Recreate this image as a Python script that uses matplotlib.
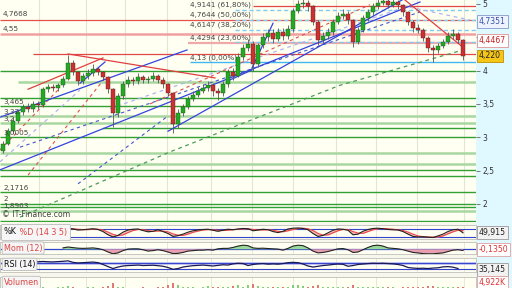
import matplotlib
matplotlib.use("Agg")
import matplotlib.pyplot as plt
from matplotlib.patches import Rectangle
from matplotlib.offsetbox import TextArea, HPacker, AnchoredOffsetbox
import numpy as np

# ---------------- data ----------------
closes = [2.90, 3.10, 3.25, 3.38, 3.45, 3.42, 3.50, 3.48, 3.72, 3.76,
          3.74, 3.78, 3.88, 4.12, 3.98, 3.84, 3.92, 3.96, 4.02, 3.98,
          3.90, 3.72, 3.36, 3.62, 3.80, 3.86, 3.84, 3.90, 3.86, 3.88,
          3.92, 3.86, 3.80, 3.66, 3.20, 3.36, 3.46, 3.58, 3.64, 3.70,
          3.74, 3.78, 3.70, 3.66, 3.80, 3.98, 3.92, 4.20, 4.34, 4.40,
          4.10, 4.38, 4.50, 4.56, 4.48, 4.58, 4.52, 4.62, 4.90, 5.00,
          5.01, 4.97, 4.73, 4.46, 4.52, 4.58, 4.73, 4.82, 4.85, 4.76,
          4.43, 4.61, 4.79, 4.88, 4.97, 5.02, 5.04, 4.99, 5.03, 4.98,
          4.88, 4.73, 4.64, 4.61, 4.49, 4.34, 4.31, 4.37, 4.43, 4.52,
          4.55, 4.46, 4.22]
first_open = 2.80
highs = [2.95, 3.14, 3.30, 3.42, 3.50, 3.52, 3.55, 3.54, 3.76, 3.80,
         3.80, 3.82, 3.92, 4.24, 4.16, 4.00, 3.96, 4.02, 4.10, 4.06,
         4.00, 3.92, 3.74, 3.66, 3.84, 3.92, 3.90, 3.96, 3.94, 3.92,
         3.98, 3.95, 3.90, 3.82, 3.68, 3.42, 3.50, 3.62, 3.70, 3.76,
         3.80, 3.84, 3.82, 3.74, 3.84, 4.02, 4.04, 4.26, 4.40, 4.48,
         4.44, 4.42, 4.56, 4.62, 4.62, 4.64, 4.64, 4.68, 4.94, 5.06,
         5.08, 5.06, 4.99, 4.76, 4.58, 4.64, 4.78, 4.88, 4.92, 4.90,
         4.78, 4.66, 4.84, 4.92, 5.02, 5.08, 5.10, 5.08, 5.08, 5.06,
         5.00, 4.90, 4.76, 4.70, 4.64, 4.52, 4.38, 4.42, 4.48, 4.58,
         4.62, 4.58, 4.48]
lows = [2.76, 2.88, 3.06, 3.22, 3.34, 3.38, 3.38, 3.42, 3.45, 3.68,
        3.70, 3.70, 3.75, 3.86, 3.94, 3.78, 3.80, 3.88, 3.92, 3.94,
        3.86, 3.66, 3.15, 3.30, 3.58, 3.76, 3.78, 3.80, 3.82, 3.82,
        3.84, 3.82, 3.74, 3.62, 3.06, 3.14, 3.32, 3.42, 3.54, 3.60,
        3.66, 3.70, 3.62, 3.56, 3.62, 3.76, 3.86, 3.90, 4.16, 4.30,
        4.00, 4.06, 4.34, 4.44, 4.42, 4.44, 4.46, 4.48, 4.58, 4.86,
        4.94, 4.90, 4.68, 4.38, 4.42, 4.48, 4.54, 4.70, 4.78, 4.70,
        4.36, 4.40, 4.58, 4.74, 4.84, 4.92, 4.98, 4.94, 4.96, 4.92,
        4.82, 4.68, 4.58, 4.56, 4.44, 4.28, 4.13, 4.26, 4.34, 4.40,
        4.48, 4.42, 4.16]
volumes = [4, 3, 5, 3, 4, 3, 2, 3, 5, 3, 3, 4, 5, 8, 4, 3, 3, 4, 5, 3,
           5, 7, 14, 6, 4, 3, 3, 3, 4, 3, 3, 4, 5, 9, 16, 10, 6, 5, 4, 3,
           5, 8, 6, 4, 5, 6, 8, 10, 6, 9, 12, 8, 6, 5, 4, 6, 5, 4, 9, 11,
           7, 6, 8, 10, 6, 5, 5, 4, 6, 5, 9, 5, 4, 5, 4, 4, 5, 6, 4, 3,
           5, 6, 5, 4, 6, 8, 7, 5, 4, 5, 4, 5, 6]

stoch_start = 7
stoch_k = [80, 82, 84, 80, 78, 82, 86, 80, 72, 74, 78, 82, 76, 60, 35, 18,
           30, 55, 72, 78, 80, 68, 58, 62, 74, 60, 45, 22, 28, 40, 55, 66,
           72, 76, 78, 70, 62, 70, 78, 74, 80, 84, 82, 66, 72, 78, 74, 60,
           52, 62, 80, 86, 88, 84, 74, 45, 22, 30, 50, 70, 80, 78, 70, 35,
           40, 62, 76, 84, 86, 82, 76, 74, 72, 60, 40, 22, 18, 20, 16, 14,
           26, 40, 60, 74, 78, 50]
stoch_d = [78, 80, 82, 82, 80, 80, 82, 82, 78, 75, 75, 78, 78, 72, 56, 38,
           28, 34, 52, 68, 76, 75, 68, 62, 64, 64, 58, 42, 32, 30, 40, 54,
           64, 72, 75, 74, 70, 68, 70, 74, 78, 80, 82, 76, 72, 72, 74, 70,
           62, 58, 66, 76, 84, 86, 82, 68, 46, 32, 34, 50, 66, 76, 76, 60,
           48, 46, 60, 74, 82, 84, 82, 78, 74, 68, 56, 40, 26, 20, 18, 16,
           18, 26, 42, 58, 70, 68]
stoch_last = "49,915"

mom_start = 12
mom = [0.15, 0.25, 0.18, 0.12, 0.10, 0.12, 0.15, 0.08, -0.05, -0.30,
       -0.50, -0.40, -0.15, 0.02, 0.05, 0.05, -0.05, -0.20, -0.15, -0.05,
       -0.15, -0.30, -0.48, -0.45, -0.35, -0.20, -0.15, -0.10, -0.10, -0.05,
       -0.10, 0.05, 0.10, 0.10, 0.20, 0.35, 0.45, 0.40, 0.15, 0.10,
       0.12, 0.08, 0.05, 0.02, -0.10, 0.10, 0.35, 0.45, 0.40, 0.15,
       -0.20, -0.40, -0.35, -0.25, -0.10, 0.05, 0.08, -0.05, -0.35, -0.30,
       -0.05, 0.20, 0.40, 0.45, 0.35, 0.15, 0.10, 0.05, -0.05, -0.20,
       -0.35, -0.40, -0.48, -0.50, -0.50, -0.45, -0.40, -0.25, -0.10, -0.05,
       -0.135]
mom_last = "-0,1350"

rsi_start = 6
rsi = [80, 80, 82, 80, 79, 81, 83, 86, 76, 72, 74, 76, 78, 74, 62, 48,
       35, 45, 52, 55, 56, 58, 55, 56, 57, 54, 50, 42, 30, 35, 45, 50,
       54, 56, 58, 55, 52, 56, 60, 58, 66, 70, 68, 55, 62, 66, 68, 64,
       66, 64, 68, 74, 76, 74, 65, 52, 45, 50, 55, 58, 62, 65, 63, 50,
       55, 62, 65, 68, 70, 69, 70, 68, 66, 62, 55, 42, 38, 36, 37, 35,
       38, 40, 46, 48, 44, 35.145]
rsi_last = "35,145"
vol_last = "4,922K"

fib_levels = [4.13, 4.4294, 4.6147, 4.7644, 4.9141]
fib_labels = ["4,13 (0,00%)", "4,4294 (23,60%)", "4,6147 (38,20%)",
              "4,7644 (50,00%)", "4,9141 (61,80%)"]

red_full_levels = [4.7668, 4.55]
red_full_labels = ["4,7668", "4,55"]
red_part_levels = [4.25, 4.97, 4.42]
red_part_starts = [6, 50, 37]

green_solid_levels = [4.0, 3.59, 3.465, 3.14, 3.0005, 2.51, 2.42, 2.1716, 2.0, 1.95, 1.735]
green_solid_starts = [-1, -1, -1, 19.8, -1, -1, -1, -1, -1, -1, -1]
green_pale_levels = [3.83, 3.32, 3.21, 2.76, 2.60, 1.8963]
green_pale_starts = [3, -1, -1, -1, -1, -1]
green_labels = ["3,465", "3,32", "3,2", "3,0005", "2,1716", "2", "1,8963"]
green_label_levels = [3.465, 3.32, 3.21, 3.0005, 2.1716, 2.0, 1.8963]

# trend lines: (i0, p0, i1, p1)
blue_solid = [(-0.6, 3.30, 36.8, 4.31), (-0.6, 2.51, 83.4, 5.03),
              (33.0, 3.09, 79.8, 5.06), (15.4, 3.81, 20.4, 4.13),
              (49.8, 4.04, 54.0, 4.71), (45.4, 3.86, 49.8, 4.01)]
red_solid = [(5.0, 3.72, 20.0, 4.19), (13.0, 4.25, 42.4, 3.89),
             (80.4, 5.06, 92.0, 4.35)]
red_dashed = [(-0.6, 2.81, 11.4, 3.74), (5.0, 2.43, 20.4, 3.89),
              (29.4, 3.50, 73.4, 4.99)]
blue_dashed = [(3.4, 2.85, 83.4, 4.88), (15.0, 2.30, 33.0, 3.32)]
lav_dashed = [(21.4, 3.43, 79.4, 4.93), (-0.6, 2.63, 15.4, 3.71),
              (78.4, 5.00, 93.4, 4.76)]
green_dashed_i = [3.4, 33.4, 67.4, 92.0]
green_dashed_p = [1.80, 2.78, 3.78, 4.31]

month_lines = [7.2, 16.6, 24.4, 32.8, 41.6, 49.8, 58.0, 66.6, 74.6, 82.8, 92.2]

right_ticks = [2, 2.5, 3, 3.5, 4, 4.5, 5]
right_tick_labels = ["2", "2,5", "3", "3,5", "4", "", "5"]

# ---------------- figure ----------------
W, H = 512, 288
fig = plt.figure(figsize=(W / 100, H / 100), dpi=100)
fig.patch.set_facecolor("#f7f7ee")
fig.patches.append(Rectangle((476 / W, 0), 36 / W, 1, transform=fig.transFigure,
                             color="#e0f8ff", zorder=-10))

def rect(l, t, w, h):
    return [l / W, 1 - (t + h) / H, w / W, h / H]

XL = (-0.6, 94.6)
BG = "#fffff2"
FS = 5.2

ax = fig.add_axes(rect(0, 0, 476, 222))
ax.set_facecolor(BG)
ax.set_xlim(*XL)
ax.set_ylim(1.727, 5.06)
for s in ax.spines.values():
    s.set_visible(False)
ax.set_xticks([])
ax.yaxis.tick_right()
ax.set_yticks(right_ticks)
ax.set_yticklabels(right_tick_labels)
ax.tick_params(axis="y", length=3, width=0.6, color="#666666", labelsize=5.5,
               labelcolor="#333333", pad=1.5)

for m in month_lines:
    ax.axvline(m, color="#e4e4d6", lw=0.8, zorder=0)

xmax = XL[1]
# green supports
for lv, st in zip(green_pale_levels, green_pale_starts):
    ax.hlines(lv, max(st, XL[0]), xmax, color="#a8d8a0", lw=1.8, zorder=1)
for lv, st in zip(green_solid_levels, green_solid_starts):
    ax.hlines(lv, max(st, XL[0]), xmax, color="#33a033", lw=1.0, zorder=1)
# red resistances
ax.hlines(red_full_levels[0], XL[0], xmax, color="#e85050", lw=0.9, zorder=1)
ax.hlines(red_full_levels[1], XL[0], xmax, color="#f0a0a0", lw=1.8, zorder=1)
ax.hlines(red_part_levels[0], red_part_starts[0], xmax, color="#e04848", lw=0.9, zorder=1)
ax.hlines(red_part_levels[1], red_part_starts[1], xmax, color="#e04848", lw=0.9, zorder=1)
ax.hlines(red_part_levels[2], red_part_starts[2], xmax, color="#f0a8a8", lw=1.6, zorder=1)
# fibonacci
ax.hlines(fib_levels[0], 37.4, xmax, color="#40b8f0", lw=1.0, zorder=1)
for lv in fib_levels[1:]:
    ax.hlines(lv, 46.4, xmax, color="#80ccf0", lw=1.0, linestyles=(0, (3, 2)), zorder=1)
for lv, lb in zip(fib_levels, fib_labels):
    ax.annotate(lb, (37.4, lv), xytext=(0, 1.0), textcoords="offset points",
                fontsize=FS, color="#444444", va="bottom", ha="left", zorder=6)

# trend lines
for (a, b, c2, d) in blue_dashed:
    ax.plot([a, c2], [b, d], color="#4455cc", lw=0.8, ls=(0, (3, 3)), zorder=2)
for (a, b, c2, d) in lav_dashed:
    ax.plot([a, c2], [b, d], color="#b0b4ee", lw=0.9, ls=(0, (3, 3)), zorder=2)
for (a, b, c2, d) in red_dashed:
    ax.plot([a, c2], [b, d], color="#e05050", lw=0.8, ls=(0, (3, 3)), zorder=2)
ax.plot(green_dashed_i, green_dashed_p, color="#4a9a5a", lw=0.9, ls=(0, (3, 3)), zorder=2)
for (a, b, c2, d) in blue_solid:
    ax.plot([a, c2], [b, d], color="#3344dd", lw=0.9, zorder=2)
for (a, b, c2, d) in red_solid:
    ax.plot([a, c2], [b, d], color="#e04040", lw=0.9, zorder=2)

# candles
idx = np.arange(len(closes))
c = np.array(closes)
o = np.concatenate([[first_open], c[:-1]])
up = c >= o
ax.vlines(idx, lows, highs, color="#555555", lw=0.6, zorder=3)
ax.bar(idx[up], (c - o)[up], bottom=o[up], width=0.62, color="#22aa22",
       edgecolor="#225522", linewidth=0.3, zorder=4)
ax.bar(idx[~up], (c - o)[~up], bottom=o[~up], width=0.62, color="#cc3030",
       edgecolor="#552222", linewidth=0.3, zorder=4)

# left labels
for lv, lb in zip(red_full_levels, red_full_labels):
    ax.annotate(lb, (0.0, lv), xytext=(0, 1.5), textcoords="offset points",
                fontsize=FS, color="#444444", va="bottom", ha="left", zorder=6)
for lv, lb in zip(green_label_levels, green_labels):
    ax.annotate(lb, (0.0, lv), xytext=(0, 1.0), textcoords="offset points",
                fontsize=FS, color="#444444", va="bottom", ha="left", zorder=6)
ax.text(0.004, 0.012, "\u00a9 IT-Finance.com", transform=ax.transAxes, fontsize=5.6,
        color="#444444", va="bottom", ha="left", zorder=6)

# right value boxes
def vbox(a, y, txt, fc, ec, tc, z=10):
    a.text(1.006, y, txt, transform=a.get_yaxis_transform(), fontsize=5.6, color=tc,
           va="center", ha="left", zorder=z, clip_on=False,
           bbox=dict(boxstyle="square,pad=0.25", fc=fc, ec=ec, lw=0.6))
vbox(ax, 4.7351, "4,7351", "#eef2ff", "#8899cc", "#3355aa")
vbox(ax, 4.4467, "4,4467", "#ffffff", "#e09090", "#cc2222")
vbox(ax, 4.22, "4,220", "#f5c518", "#c09000", "#222222", z=12)

# ---------------- sub panels ----------------
def panel(t, h, ylim):
    a = fig.add_axes(rect(0, t, 476, h))
    a.set_facecolor(BG)
    a.set_xlim(*XL)
    a.set_ylim(*ylim)
    a.set_xticks([]); a.set_yticks([])
    for s in a.spines.values():
        s.set_color("#c8c8c0"); s.set_linewidth(0.7)
    for m in month_lines:
        a.axvline(m, color="#e8e8da", lw=0.7, zorder=0)
    return a

LAB = dict(boxstyle="round,pad=0.2", fc="#f6f6f6", ec="#bbbbbb", lw=0.6)

# stochastic
a1 = panel(225, 14, (2, 111))
xs = np.arange(stoch_start, stoch_start + len(stoch_k))
a1.axhline(80, color="#3344cc", lw=0.8, zorder=1)
a1.axhline(20, color="#3344cc", lw=0.8, zorder=1)
a1.fill_between(xs, stoch_k, stoch_d, color="#f4a8a8", alpha=0.8, lw=0, zorder=2)
a1.plot(xs, stoch_d, color="#ee4444", lw=0.8, zorder=3)
a1.plot(xs, stoch_k, color="#222222", lw=0.8, zorder=4)
packed = HPacker(children=[TextArea("%K", textprops=dict(color="#111111", fontsize=5.8)),
                           TextArea(" %D (14 3 5)", textprops=dict(color="#dd4444", fontsize=5.8))],
                 align="center", pad=0, sep=0)
anch = AnchoredOffsetbox(loc="center left", child=packed, pad=0.15, borderpad=0,
                         frameon=True, bbox_to_anchor=(0.004, 0.5),
                         bbox_transform=a1.transAxes)
anch.patch.set_boxstyle("round,pad=0.1")
anch.patch.set_facecolor("#f6f6f6")
anch.patch.set_edgecolor("#bbbbbb")
anch.patch.set_linewidth(0.6)
anch.set_zorder(9)
a1.add_artist(anch)
vbox(a1, 50, stoch_last, "#f2f2f2", "#999999", "#222222")

# momentum
a2 = panel(242, 12, (-0.52, 0.80))
xm = np.arange(mom_start, mom_start + len(mom))
mv = np.array(mom)
a2.axhline(0, color="#3344cc", lw=0.9, zorder=1)
a2.fill_between(xm, mv, 0, where=mv >= 0, interpolate=True, color="#98d898", lw=0, zorder=2)
a2.fill_between(xm, mv, 0, where=mv < 0, interpolate=True, color="#e8a0b0", lw=0, zorder=2)
a2.plot(xm, mv, color="#222222", lw=0.8, zorder=4)
a2.text(0.008, 0.5, "Mom (12)", transform=a2.transAxes, fontsize=5.8, va="center",
        ha="left", color="#dd4444", zorder=9, bbox=LAB)
vbox(a2, 0.0, mom_last, "#ffffff", "#e0a0a0", "#dd3333")

# RSI
a3 = panel(258, 14, (12, 105))
xr = np.arange(rsi_start, rsi_start + len(rsi))
a3.axhline(70, color="#b8b8f0", lw=2.0, zorder=1)
a3.axhline(70, color="#3344cc", lw=0.7, zorder=1)
a3.axhline(30, color="#3344cc", lw=0.8, zorder=1)
a3.plot(xr, rsi, color="#1a1a55", lw=0.9, zorder=4)
a3.text(0.008, 0.55, "RSI (14)", transform=a3.transAxes, fontsize=5.8, va="center",
        ha="left", color="#111111", zorder=9, bbox=LAB)
vbox(a3, 28, rsi_last, "#f2f2f2", "#999999", "#222222")

# volume
a4 = panel(277, 12, (0, 30))
vcol = np.where(up, "#7fcf7f", "#e07878")
a4.bar(idx, volumes, width=0.35, color=vcol, zorder=3)
a4.text(0.008, 0.55, "Volumen", transform=a4.transAxes, fontsize=5.8, va="center",
        ha="left", color="#dd4444", zorder=9, bbox=LAB)
vbox(a4, 16, vol_last, "#ffffff", "#e0a0a0", "#dd3333")

fig.savefig("out.png", dpi=100, facecolor=fig.get_facecolor())
